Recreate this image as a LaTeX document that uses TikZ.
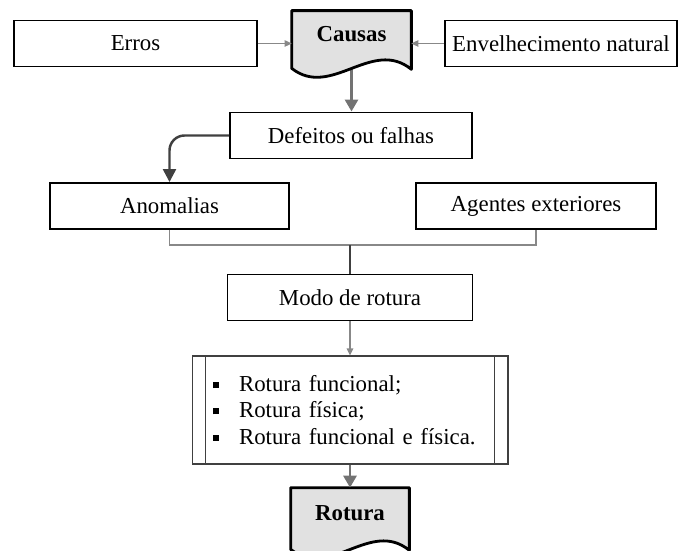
\documentclass[tikz,border=0pt]{standalone}
\usepackage{fontspec}
\setmainfont{Liberation Serif}
\usetikzlibrary{
    positioning,
    arrows.meta,
    calc,
    backgrounds
}
\definecolor{DocGray}{RGB}{225,225,225}
\definecolor{LineGray}{RGB}{136,136,136}
\definecolor{ArrowGray}{RGB}{115,115,115}
\definecolor{DarkGray}{RGB}{64,64,64}

% outline of a flowchart "document" drawn round a node
\newcommand{\docshape}[1]{%
    \draw[docline] (#1.north west) -- (#1.north east)
        -- ($(#1.south east)+(0,-0.24cm)$)
        .. controls ($(#1.south west)!0.67!(#1.south east)+(0,0.40cm)$)
        and ($(#1.south west)!0.33!(#1.south east)+(0,-0.84cm)$)
        .. ($(#1.south west)+(0,-0.22cm)$) -- cycle;}

% square bullet of the list
\newcommand{\quadrado}{\makebox[0.52cm][l]{\rule[0.07cm]{0.12cm}{0.12cm}}}

\begin{document}
\begin{tikzpicture}[
            x=0.02cm, y=-0.02cm,
            font=\fontsize{13}{15}\selectfont,
            box/.style={draw, line width=1.1pt, fill=white, inner sep=0pt,
                minimum height=0.92cm},
            doc/.style={inner sep=0pt},
            docline/.style={draw, line width=1.6pt, fill=DocGray, line join=round},
            listbox/.style={draw=DarkGray, line width=0.6pt, fill=white,
                minimum width=6.32cm, minimum height=2.16cm, text width=5.48cm,
                inner xsep=0.42cm, align=left},
            listline/.style={DarkGray, line width=0.6pt},
            thinarrow/.style={LineGray, line width=0.6pt,
                -{Triangle[length=0.14cm, width=0.13cm]}},
            thickarrow/.style={ArrowGray, line width=1.6pt,
                -{Triangle[length=0.24cm, width=0.26cm]}},
            darkarrow/.style={DarkGray, line width=1.4pt, rounded corners=0.3cm,
                -{Triangle[length=0.26cm, width=0.26cm]}},
            bracket/.style={LineGray, line width=0.6pt},
            stem/.style={DarkGray, line width=0.9pt},
        ]
        \useasboundingbox (0,0) rectangle (678,550);

        % Top row
        \node[box, minimum width=4.86cm] (erros) at (135.5,43.5) {Erros};
        \node[doc, minimum width=2.38cm, minimum height=0.92cm] (causas) at (351.5,34) {\textbf{Causas}};
        \node[box, minimum width=4.64cm] (envelh) at (561,43.5) {Envelhecimento natural};

        % Middle boxes
        \node[box, minimum width=4.84cm] (defeitos) at (351,135.5) {Defeitos ou falhas};
        \node[box, minimum width=4.78cm] (anomalias) at (169.5,206) {Anomalias};
        \node[box, minimum width=4.8cm] (agentes) at (536,206) {Agentes exteriores};
        \node[box, minimum width=4.9cm] (modo) at (350,297.5) {Modo de rotura};

        % List of failure modes
        \node[listbox] (lista) at (350,410) {\quadrado Rotura funcional;\\
            \quadrado Rotura física;\\
            \quadrado Rotura funcional e física.};
        \draw[listline] ([xshift=0.28cm]lista.north west) -- ([xshift=0.28cm]lista.south west);
        \draw[listline] ([xshift=-0.28cm]lista.north east) -- ([xshift=-0.28cm]lista.south east);

        % Result
        \node[doc, minimum width=2.36cm, minimum height=1.0cm] (rotura) at (350,513) {\textbf{Rotura}};

        % Connectors
        \draw[thinarrow] (erros.east) -- (erros.east -| causas.west);
        \draw[thinarrow] (envelh.west) -- (envelh.west -| causas.east);
        \draw[darkarrow] (defeitos.west) -| (anomalias.north);
        \coordinate (juncao) at (350,245);
        \draw[bracket] (anomalias.south) |- (juncao) -| (agentes.south);
        \draw[stem] (juncao) -- (modo.north);
        \draw[thinarrow] (modo.south) -- (lista.north);
        \draw[thickarrow] (lista.south) -- (rotura.north);

        % Document shapes behind the bold labels
        \begin{scope}[on background layer]
            \draw[thickarrow] (causas.south) -- (causas.south |- defeitos.north);
            \docshape{causas}
            \docshape{rotura}
        \end{scope}
\end{tikzpicture}
\end{document}
